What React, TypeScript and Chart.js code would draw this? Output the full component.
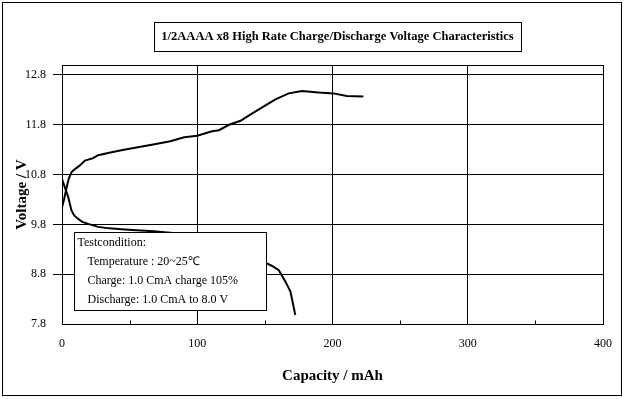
import React, { useEffect, useRef } from 'react';
import { Chart, registerables } from 'chart.js';

Chart.register(...registerables);

// ---- data ----
const chargeCapacity = [0, 1.5, 3.5, 5, 7.1, 9.6, 13, 17, 23, 26.7, 35, 43.9, 56, 68.4, 80, 90.4, 100, 111, 116, 123.5, 132, 139.5, 148, 157.8, 167.6, 177.4, 189.7, 200.7, 210.5, 222.8];
const chargeVoltage = [10.14, 10.3, 10.55, 10.72, 10.85, 10.91, 10.98, 11.08, 11.13, 11.19, 11.24, 11.29, 11.35, 11.41, 11.47, 11.55, 11.58, 11.67, 11.69, 11.8, 11.88, 12.01, 12.15, 12.31, 12.43, 12.48, 12.45, 12.43, 12.38, 12.37];

const dischargeCapacity = [0, 2, 4.6, 7, 9, 12, 15, 19.4, 23, 26.7, 35, 43.9, 55, 68, 80, 95, 110, 125, 140, 150.2, 155, 160.3, 165.2, 168.9, 172.5];
const dischargeVoltage = [10.71, 10.55, 10.35, 10.08, 9.98, 9.91, 9.85, 9.81, 9.78, 9.75, 9.72, 9.7, 9.68, 9.66, 9.63, 9.59, 9.52, 9.42, 9.25, 9.03, 8.97, 8.88, 8.65, 8.45, 7.98];

const xTickValues = [0, 100, 200, 300, 400];
const xMinorTickValues = [50, 150, 250, 350];
const yTickValues = [7.8, 8.8, 9.8, 10.8, 11.8, 12.8];
const xMin = 0;
const xMax = 400;
const yMin = 7.8;
const yMax = 13.0;

const titleText = '1/2AAAA x8 High Rate Charge/Discharge Voltage Characteristics';
const xTitle = 'Capacity / mAh';
const yTitle = 'Voltage / V';
const noteLines = ['Testcondition:', 'Temperature : 20~25℃', 'Charge: 1.0 CmA charge 105%', 'Discharge: 1.0 CmA to 8.0 V'];

const SERIF = "'Liberation Serif', 'Times New Roman', serif";

const decorPlugin = {
  id: 'decor',
  beforeDraw(chart: any) {
    const { ctx, width, height } = chart;
    ctx.save();
    ctx.fillStyle = '#fff';
    ctx.fillRect(0, 0, width, height);
    ctx.restore();
  },
  afterDatasetsDraw(chart: any) {
    const { ctx, chartArea: ca, scales } = chart;
    ctx.save();
    ctx.strokeStyle = '#000';
    ctx.lineWidth = 1;
    // plot area border
    const l = Math.round(ca.left) + 0.5;
    const t = Math.round(ca.top) + 0.5;
    const r = Math.round(ca.right) + 0.5;
    const b = Math.round(ca.bottom) + 0.5;
    ctx.strokeRect(l, t, r - l, b - t);
    // minor inside ticks
    xMinorTickValues.forEach((v) => {
      const px = Math.round(scales.x.getPixelForValue(v)) + 0.5;
      ctx.beginPath();
      ctx.moveTo(px, b);
      ctx.lineTo(px, b - 4);
      ctx.stroke();
    });
    // test condition box
    const bx = Math.round(ca.left) + 12.5;
    const by = Math.round(ca.top) + 167.5;
    const bw = 192;
    const bh = 78;
    ctx.fillStyle = '#fff';
    ctx.fillRect(bx, by, bw, bh);
    ctx.strokeRect(bx, by, bw, bh);
    ctx.fillStyle = '#000';
    ctx.font = `12px ${SERIF}`;
    ctx.textBaseline = 'middle';
    ctx.textAlign = 'left';
    noteLines.forEach((line, i) => {
      const x = i === 0 ? bx + 3 : bx + 13;
      ctx.fillText(line, x, by + 10 + i * 19);
    });
    ctx.restore();
  },
  afterDraw(chart: any) {
    const { ctx, chartArea: ca } = chart;
    ctx.save();
    ctx.strokeStyle = '#000';
    ctx.lineWidth = 1;
    // outer border
    ctx.strokeRect(2.5, 2.5, 619, 393);
    // title with box
    ctx.font = `bold 12.5px ${SERIF}`;
    const w = ctx.measureText(titleText).width;
    const cx = (ca.left + ca.right) / 2 + 5;
    const cy = 37;
    ctx.fillStyle = '#000';
    ctx.textAlign = 'center';
    ctx.textBaseline = 'middle';
    ctx.fillText(titleText, cx, cy);
    const bl = Math.round(cx - w / 2 - 7) + 0.5;
    const br = Math.round(cx + w / 2 + 7) + 0.5;
    ctx.strokeRect(bl, 22.5, br - bl, 29);
    ctx.restore();
  },
};

export default function App() {
  const canvasRef = useRef<HTMLCanvasElement | null>(null);

  useEffect(() => {
    document.body.style.margin = '0';
    const canvas = canvasRef.current;
    if (!canvas) return;
    const chart = new Chart(canvas, {
      type: 'line',
      data: {
        datasets: [
          {
            label: 'Charge',
            data: chargeCapacity.map((x, i) => ({ x, y: chargeVoltage[i] })),
            borderColor: '#000',
            borderWidth: 2,
            pointRadius: 0,
            tension: 0,
            fill: false,
          },
          {
            label: 'Discharge',
            data: dischargeCapacity.map((x, i) => ({ x, y: dischargeVoltage[i] })),
            borderColor: '#000',
            borderWidth: 2,
            pointRadius: 0,
            tension: 0,
            fill: false,
          },
        ],
      },
      options: {
        animation: false,
        responsive: false,
        devicePixelRatio: 1,
        layout: { padding: { left: 0, right: 19, top: 65, bottom: 0 } },
        plugins: {
          legend: { display: false },
          tooltip: { enabled: false },
          title: { display: false },
        },
        scales: {
          x: {
            type: 'linear',
            min: xMin,
            max: xMax,
            afterBuildTicks: (scale: any) => {
              scale.ticks = xTickValues.map((v) => ({ value: v }));
            },
            afterFit: (scale: any) => {
              scale.height = 75;
            },
            ticks: {
              color: '#000',
              font: { family: SERIF, size: 12 },
              padding: 13,
              maxRotation: 0,
              autoSkip: false,
              callback: (v: any) => String(v),
            },
            grid: { color: '#000', lineWidth: 1, drawTicks: false },
            border: { display: true, color: '#000', width: 1 },
            title: {
              display: true,
              text: xTitle,
              color: '#000',
              font: { family: SERIF, size: 15, weight: 'bold' },
              padding: { top: 0, bottom: 14 },
            },
          },
          y: {
            type: 'linear',
            min: yMin,
            max: yMax,
            afterBuildTicks: (scale: any) => {
              scale.ticks = yTickValues.map((v) => ({ value: v }));
            },
            afterFit: (scale: any) => {
              scale.width = 62;
            },
            ticks: {
              color: '#000',
              font: { family: SERIF, size: 12 },
              padding: 7,
              autoSkip: false,
              callback: (v: any) => Number(v).toFixed(1),
            },
            grid: {
              color: '#000',
              lineWidth: 1,
              drawTicks: true,
              tickLength: 9,
              tickColor: (c: any) => (c.index === 0 ? 'rgba(0,0,0,0)' : '#000'),
            },
            border: { display: true, color: '#000', width: 1 },
            title: {
              display: true,
              text: yTitle,
              color: '#000',
              font: { family: SERIF, size: 15, weight: 'bold' },
              padding: { top: 13, bottom: 0 },
            },
          },
        },
      },
      plugins: [decorPlugin],
    } as any);
    return () => chart.destroy();
  }, []);

  return <canvas ref={canvasRef} width={625} height={399} style={{ display: 'block', width: 625, height: 399 }} />;
}
